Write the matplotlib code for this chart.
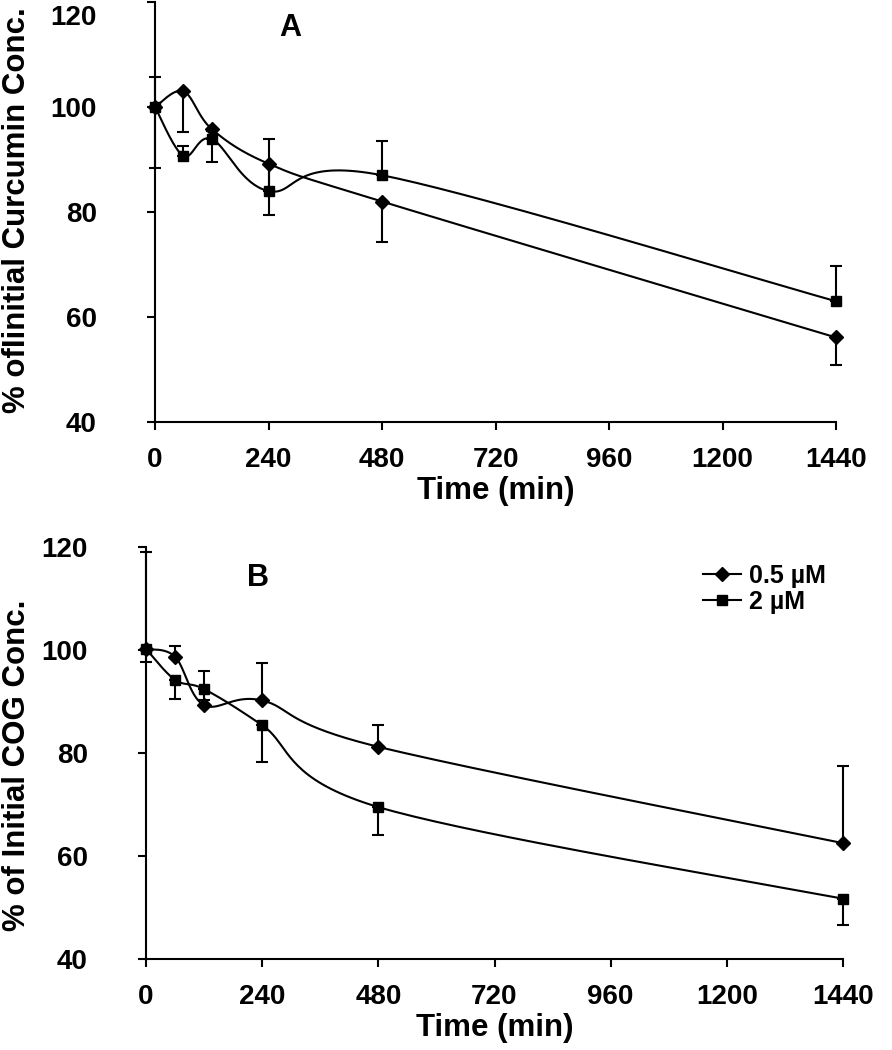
import numpy as np
import matplotlib.pyplot as plt
import matplotlib.transforms as mtransforms
from matplotlib.lines import Line2D

plt.rcParams['font.family'] = ['Liberation Sans', 'DejaVu Sans']
plt.rcParams['font.weight'] = 'bold'

# Data
time = [0, 60, 120, 240, 480, 1440]

# Panel A: curcumin
a_05 = [100.0, 103.0, 95.8, 89.2, 82.0, 56.1]
a_05_err_minus = [11.6, 7.7, 6.2, 9.8, 7.7, 5.2]
a_2 = [100.0, 90.7, 93.9, 84.0, 87.0, 63.0]
a_2_err_plus = [5.7, 1.9, 1.5, 9.9, 6.5, 6.8]

# Panel B: COG
b_05 = [100.2, 98.7, 89.3, 90.2, 81.2, 62.5]
b_05_err_plus = [18.8, 2.1, 6.6, 7.3, 4.2, 15.0]
b_2 = [100.2, 94.2, 92.4, 85.4, 69.5, 51.7]
b_2_err_minus = [2.5, 3.7, 2.2, 7.1, 5.4, 5.1]

series_labels = ['0.5 \u00b5M', '2 \u00b5M']
xticks = [0, 240, 480, 720, 960, 1200, 1440]
yticks = [40, 60, 80, 100, 120]


def smooth_line(ax, x, y, n=40):
    # Excel-like smoothed line: Bezier/Catmull-Rom computed in pixel space
    pts = ax.transData.transform(np.column_stack([x, y]))
    p = np.vstack([pts[0], pts, pts[-1]])
    out = []
    t = np.linspace(0, 1, n)[:, None]
    for i in range(1, len(p) - 2):
        p0, p1, p2, p3 = p[i - 1], p[i], p[i + 1], p[i + 2]
        c1 = p1 + (p2 - p0) / 6
        c2 = p2 - (p3 - p1) / 6
        seg = ((1 - t) ** 3) * p1 + 3 * ((1 - t) ** 2) * t * c1 + 3 * (1 - t) * t ** 2 * c2 + t ** 3 * p2
        out.append(seg)
    out = np.vstack(out)
    return ax.transData.inverted().transform(out)


def draw_panel(ax, y05, err05, y2, err2, ylabel, label_xy, letter, letter_xy):
    ax.set_xlim(0, 1440)
    ax.set_ylim(40, 120)
    for s in ['top', 'right']:
        ax.spines[s].set_visible(False)
    for s in ['left', 'bottom']:
        ax.spines[s].set_linewidth(1.5)
    ax.set_xticks(xticks)
    ax.set_yticks(yticks)
    ax.tick_params(axis='x', direction='out', length=6, width=1.5, pad=12, labelsize=20)
    ax.tick_params(axis='y', direction='out', length=6, width=1.5, pad=36, labelsize=20)
    for lab in ax.get_xticklabels() + ax.get_yticklabels():
        lab.set_fontweight('bold')

    for yv, err, mk, ms in [(y05, err05, 'D', 7), (y2, err2, 's', 7.5)]:
        curve = smooth_line(ax, time, yv)
        ax.plot(curve[:, 0], curve[:, 1], color='black', lw=1.5, clip_on=False)
        ax.errorbar(time, yv, yerr=err, fmt='none', ecolor='black', elinewidth=1.5,
                    capsize=4.5, capthick=1.5, clip_on=False)
        ax.plot(time, yv, linestyle='none', marker=mk, markersize=ms, color='black', clip_on=False)

    ax.set_xlabel('Time (min)', fontsize=22.5, fontweight='bold', labelpad=2)
    ax.set_ylabel(ylabel, fontsize=22.5, fontweight='bold', va='center')
    ax.yaxis.set_label_coords(*label_xy)
    ax.text(letter_xy[0], letter_xy[1], letter, transform=ax.figure.transFigure,
            fontsize=22, fontweight='bold', ha='center', va='center')


fig = plt.figure(figsize=(8.92, 10.5), dpi=100)
W, H = 892, 1050
ax_a = fig.add_axes([155 / W, (H - 422) / H, (836 - 155) / W, 420 / H])
ax_b = fig.add_axes([146 / W, (H - 959) / H, (843 - 146) / W, 412 / H])

zero = [0] * len(time)
draw_panel(ax_a, a_05, [a_05_err_minus, zero], a_2, [zero, a_2_err_plus],
           '% ofIinitial Curcumin Conc.', ((17 - 155) / 681, 0.505), 'A', (290 / W, 1 - 28 / H))
draw_panel(ax_b, b_05, [zero, b_05_err_plus], b_2, [b_2_err_minus, zero],
           '% of Initial COG Conc.', ((17 - 146) / 697, 0.471), 'B', (258 / W, 1 - 578 / H))

# the top label of panel A sits a bit lower, inside the picture
fig.canvas.draw()
top_lab = ax_a.get_yticklabels()[-1]
top_lab.set_transform(top_lab.get_transform() +
                      mtransforms.ScaledTranslation(0, -13 / 100, fig.dpi_scale_trans))

handles = [Line2D([], [], color='black', lw=1.5, marker='D', markersize=7),
           Line2D([], [], color='black', lw=1.5, marker='s', markersize=7.5)]
ax_b.legend(handles, series_labels, loc='upper left', bbox_to_anchor=(690 / W, 1 - 551 / H),
            bbox_transform=fig.transFigure, frameon=False, handlelength=1.55,
            handletextpad=0.3, labelspacing=0.1, borderpad=0,
            prop={'size': 18, 'weight': 'bold'})

fig.savefig('out.png', dpi=100)
